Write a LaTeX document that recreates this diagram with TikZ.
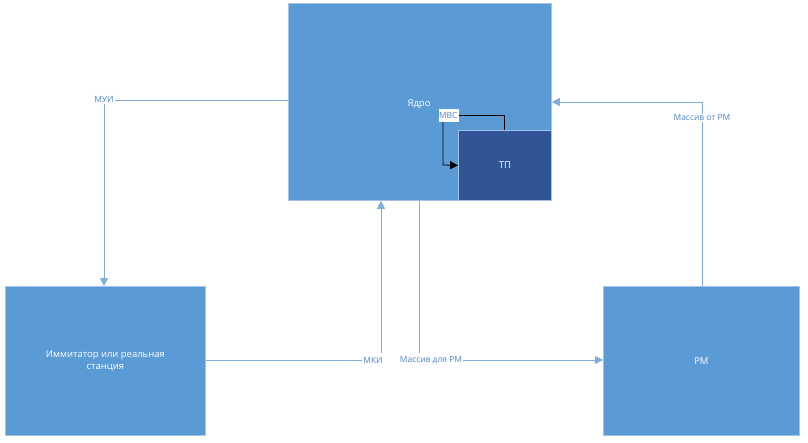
\documentclass[tikz,border=0pt]{standalone}
\usepackage{fontspec}
\setmainfont{Open Sans}
\usetikzlibrary{arrows.meta}
\definecolor{boxblue}{HTML}{5B9BD5}
\definecolor{boxedge}{HTML}{A5C3E6}
\definecolor{darkbox}{HTML}{2F5597}
\definecolor{linec}{HTML}{7FAEDC}
\definecolor{labc}{HTML}{4F86C6}
\tikzset{
  blk/.style={draw=boxedge, line width=0.8pt, fill=boxblue, text=white, font=\fontsize{9.5}{12}\selectfont, align=center, inner sep=0pt},
  boxtext/.style={text=white, font=\fontsize{9.5}{12}\selectfont, inner sep=0pt},
  conn/.style={draw=linec, line width=0.9pt, -{Triangle[length=8pt,width=8pt]}},
  plainconn/.style={draw=linec, line width=0.9pt},
  lab/.style={fill=white, text=labc, font=\fontsize{8.5}{10}\selectfont, inner sep=1pt},
}
\begin{document}
\begin{tikzpicture}[x=1bp,y=-1bp]
\useasboundingbox (0,0) rectangle (808,443);
% boxes
\node[blk, minimum width=263bp, minimum height=197bp, anchor=north west] (core) at (288,3) {};
\node[boxtext] (coretext) at (419,104) {Ядро};
\node[blk, fill=darkbox, minimum width=93bp, minimum height=70bp, anchor=north west] (tp) at (458,130) {ТП};
\node[blk, minimum width=200bp, minimum height=149bp, anchor=north west] (sim) at (5,286) {Иммитатор или реальная\\станция};
\node[blk, minimum width=196bp, minimum height=149bp, anchor=north west] (rm) at (603,286) {РМ};
% МУИ
\node[lab] (mui) at (104,100) {МУИ};
\draw[plainconn] (mui.east) -- (mui.east -| core.west);
\draw[conn] (mui.south) -- (mui.south |- sim.north);
% Массив от РМ
\node[lab] (fromrm) at (702,118) {Массив от РМ};
\coordinate (fromcorner) at (702,102);
\draw[plainconn] (fromrm.south |- rm.north) -- (fromrm.south);
\draw[conn] (fromrm.north) -- (fromcorner) -- (fromcorner -| core.east);
% МКИ
\node[lab] (mki) at (373,360) {МКИ};
\coordinate (mkiup) at (381,353);
\draw[plainconn] (mki.west -| sim.east) -- (mki.west);
\draw[conn] (mkiup) -- (mkiup |- core.south);
% Массив для РМ
\node[lab] (forrm) at (431,360) {Массив для РМ};
\coordinate (fordown) at (419,353);
\draw[plainconn] (fordown |- core.south) -- (fordown);
\draw[conn] (forrm.east) -- (forrm.east -| rm.west);
% МВС
\node[fill=white, text=labc, font=\fontsize{8.5}{10}\selectfont, inner sep=0pt, text width=20bp, minimum height=13bp, align=left] (mvs) at (449,115.5) {МВС};
\coordinate (mvscorner) at (504,115.5);
\coordinate (mvsdown) at (443,165);
\draw[black, line width=0.8pt] (mvscorner |- tp.north) -- (mvscorner) -- (mvs.east);
\draw[black, line width=0.8pt, -{Triangle[length=8pt,width=8pt]}] (mvs.south -| mvsdown) -- (mvsdown) -- (tp.west);
\end{tikzpicture}
\end{document}
